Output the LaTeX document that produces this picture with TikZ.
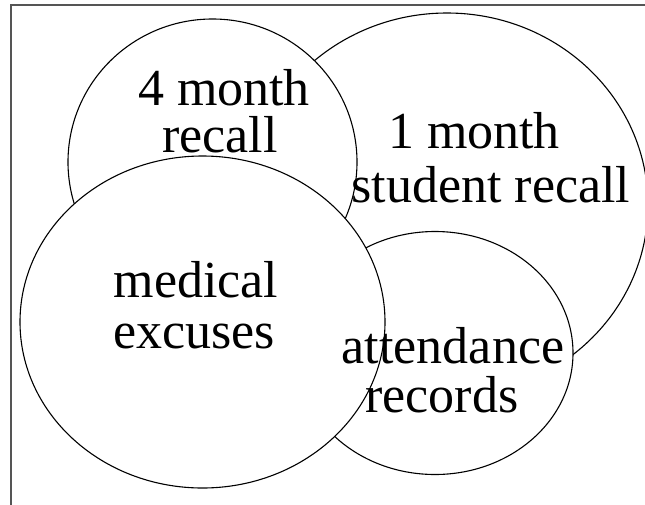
\documentclass[tikz,border=0pt]{standalone}
\usepackage{fontspec}
\setmainfont{Liberation Serif}
\begin{document}
\begin{tikzpicture}[x=1pt,y=-1pt,
  setline/.style={draw=black,line width=1.1pt,fill=white},
  framebox/.style={draw={rgb,255:red,85;green,85;blue,85},line width=1.3pt},
  lbl/.style={anchor=base,inner sep=0pt,font=\fontsize{52}{50}\selectfont}]
\useasboundingbox (0,0) rectangle (645,504);
\clip (0,0) rectangle (645,504);
\fill[white] (0,0) rectangle (645,504);
\draw[framebox] (11,5) rectangle (720,580);
% sets
\draw[setline] (447,205) ellipse [x radius=201pt, y radius=192pt];
\draw[setline] (435,353) ellipse [x radius=138pt, y radius=121.5pt];
\draw[setline] (212.5,162) ellipse [x radius=144.5pt, y radius=143pt];
\draw[setline] (202.5,322) ellipse [x radius=182.5pt, y radius=166pt];
% labels
\node[lbl] (fourA) at (224,105) {4 month};
\node[lbl] (fourB) at (220,152) {recall};
\node[lbl] (oneA) at (474,148) {1 month};
\node[lbl] (oneB) at (491,202) {student recall};
\node[lbl] (medA) at (196,297) {medical};
\node[lbl] (medB) at (194,348) {excuses};
\node[lbl] (attA) at (453,363) {attendance};
\node[lbl] (attB) at (442,412) {records};
\end{tikzpicture}
\end{document}
